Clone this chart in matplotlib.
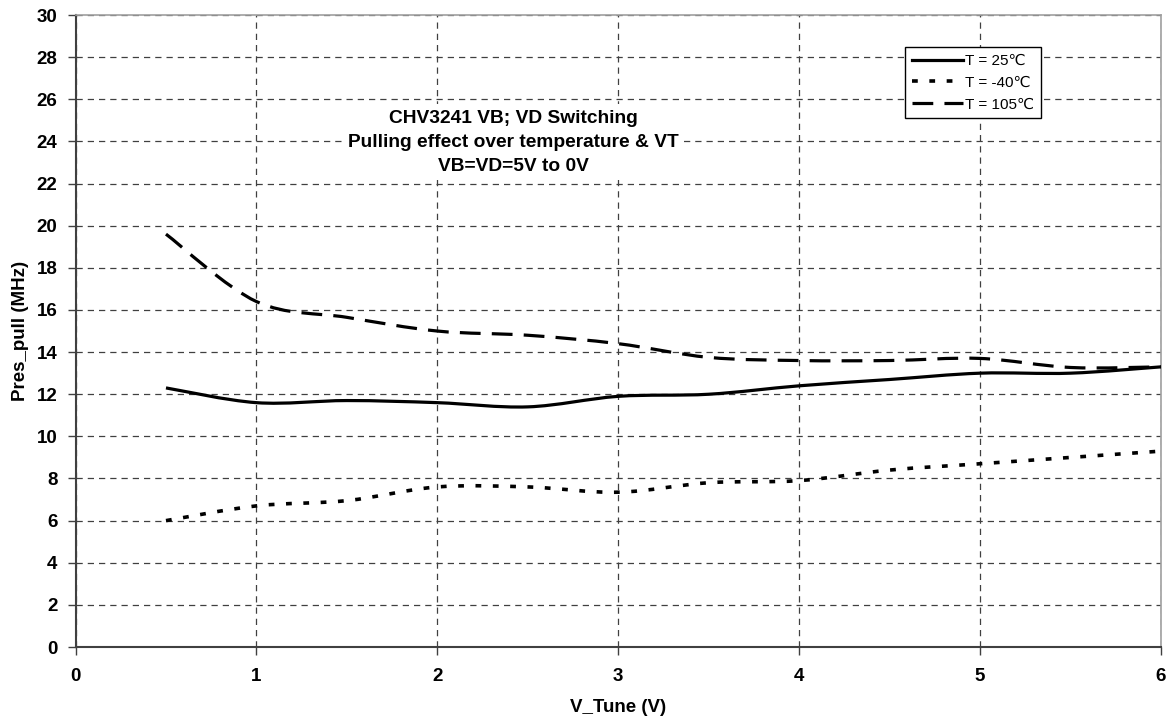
import matplotlib
matplotlib.use("Agg")
import matplotlib.pyplot as plt
from matplotlib.path import Path
from matplotlib.patches import PathPatch
from matplotlib.lines import Line2D
import numpy as np

plt.rcParams['font.family'] = ['Liberation Sans', 'DejaVu Sans']

v_tune = [0.5, 1.0, 1.5, 2.0, 2.5, 3.0, 3.5, 4.0, 4.5, 5.0, 5.5, 6.0]
pull_25 = [12.3, 11.6, 11.7, 11.6, 11.4, 11.9, 12.0, 12.4, 12.7, 13.0, 13.0, 13.3]
pull_m40 = [6.0, 6.7, 6.95, 7.6, 7.6, 7.35, 7.8, 7.9, 8.4, 8.7, 9.0, 9.3]
pull_105 = [19.6, 16.4, 15.65, 15.0, 14.8, 14.4, 13.75, 13.6, 13.6, 13.7, 13.27, 13.3]
labels = ["T = 25\u2103", "T = -40\u2103", "T = 105\u2103"]
x_ticks = [0, 1, 2, 3, 4, 5, 6]
y_ticks = list(range(0, 31, 2))
title_lines = ["CHV3241 VB; VD Switching", "Pulling effect over temperature & VT", "VB=VD=5V to 0V"]


def smooth_path(xs, ys):
    """Bezier path through the data points (Excel-style smoothed line)."""
    pts = np.column_stack([xs, ys]).astype(float)
    n = len(pts)
    verts = [pts[0]]
    codes = [Path.MOVETO]
    for i in range(n - 1):
        p0 = pts[i - 1] if i > 0 else pts[i]
        p1 = pts[i]
        p2 = pts[i + 1]
        p3 = pts[i + 2] if i + 2 < n else pts[i + 1]
        c1 = p1 + (p2 - p0) / 6.0
        c2 = p2 - (p3 - p1) / 6.0
        verts += [c1, c2, p2]
        codes += [Path.CURVE4] * 3
    return Path(verts, codes)


fig = plt.figure(figsize=(11.69, 7.17), dpi=100)
ax = fig.add_axes([0.0646, 0.0976, 0.9286, 0.8814])

styles = [
    dict(linestyle='-', lw=2.3),
    dict(linestyle=(0, (1.6, 3.2)), lw=2.6),
    dict(linestyle=(0, (6.5, 3.5)), lw=2.3),
]
series = [pull_25, pull_m40, pull_105]
for ys, st in zip(series, styles):
    patch = PathPatch(smooth_path(v_tune, ys), fill=False, edgecolor='black',
                      linestyle=st['linestyle'], linewidth=st['lw'],
                      capstyle='butt', zorder=3)
    ax.add_patch(patch)

fs = 13.5
ax.set_xlim(0, 6)
ax.set_ylim(0, 30)
ax.set_xticks(x_ticks)
ax.set_yticks(y_ticks)
ax.set_xticklabels([str(t) for t in x_ticks], fontsize=fs, fontweight='bold')
ax.set_yticklabels([str(t) for t in y_ticks], fontsize=fs, fontweight='bold')
ax.tick_params(axis='both', direction='out', length=6, width=1, color='#404040', pad=7)
ax.tick_params(axis='x', pad=9)

ax.grid(True, color='#404040', linestyle=(0, (5, 4)), linewidth=0.9)
ax.set_axisbelow(True)

for side in ['left', 'bottom']:
    ax.spines[side].set_color('#404040')
    ax.spines[side].set_linewidth(1.5)
for side in ['top', 'right']:
    ax.spines[side].set_color('#a0a0a0')
    ax.spines[side].set_linewidth(1.2)

ax.set_xlabel("V_Tune (V)", fontsize=fs, fontweight='bold')
ax.set_ylabel("Pres_pull (MHz)", fontsize=fs, fontweight='bold')
ax.xaxis.set_label_coords(0.5, -0.0815)
ax.yaxis.set_label_coords(-0.0427, 0.5)

ax.text(2.42, 23.96, "\n".join(title_lines), ha='center', va='center',
        fontsize=13.8, fontweight='bold', linespacing=1.52,
        bbox=dict(facecolor='white', edgecolor='none', pad=4), zorder=2)

handles = [Line2D([0], [0], color='black', linestyle=st['linestyle'], linewidth=st['lw'])
           for st in styles]
leg = ax.legend(handles, labels, loc='upper left', bbox_to_anchor=(0.7645, 0.949),
                fontsize=11, frameon=True, fancybox=False, framealpha=1,
                edgecolor='black', handlelength=3.35, handletextpad=0.1,
                borderpad=0.45, labelspacing=0.5, borderaxespad=0)
leg.get_frame().set_linewidth(1.0)
leg.set_zorder(5)

fig.savefig("out.png", dpi=100)
